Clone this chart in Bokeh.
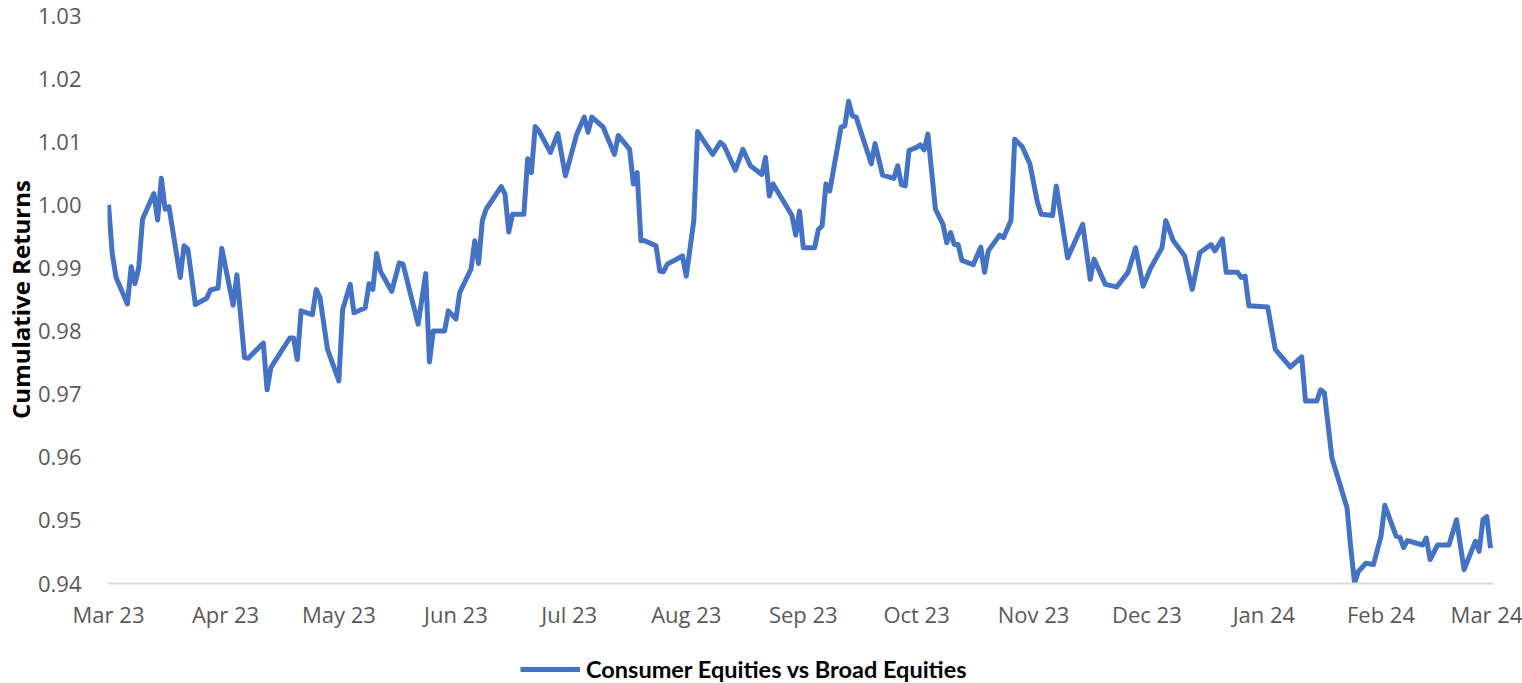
import pandas as pd
from datetime import datetime, timedelta
from bokeh.plotting import figure
from bokeh.layouts import column
from bokeh.models import (Range1d, MonthsTicker, DatetimeTickFormatter, FixedTicker,
                          PrintfTickFormatter, Legend, LegendItem)
from bokeh.embed import file_html
from bokeh.resources import INLINE

series_name = "Consumer Equities vs Broad Equities"
y_axis_title = "Cumulative Returns"
y_ticks = [0.94, 0.95, 0.96, 0.97, 0.98, 0.99, 1.00, 1.01, 1.02, 1.03]

dates = [
    "2023-03-01", "2023-03-02", "2023-03-03", "2023-03-06", "2023-03-07", "2023-03-08",
    "2023-03-09", "2023-03-10", "2023-03-13", "2023-03-14", "2023-03-15", "2023-03-16",
    "2023-03-17", "2023-03-20", "2023-03-21", "2023-03-22", "2023-03-24", "2023-03-27",
    "2023-03-28", "2023-03-30", "2023-03-31", "2023-04-03", "2023-04-04", "2023-04-06",
    "2023-04-07", "2023-04-11", "2023-04-12", "2023-04-13", "2023-04-18", "2023-04-19",
    "2023-04-20", "2023-04-21", "2023-04-24", "2023-04-25", "2023-04-26", "2023-04-28",
    "2023-05-01", "2023-05-02", "2023-05-04", "2023-05-05", "2023-05-08", "2023-05-09",
    "2023-05-10", "2023-05-11", "2023-05-12", "2023-05-15", "2023-05-17", "2023-05-18",
    "2023-05-20", "2023-05-22", "2023-05-24", "2023-05-25", "2023-05-26", "2023-05-29",
    "2023-05-30", "2023-06-01", "2023-06-02", "2023-06-05", "2023-06-06", "2023-06-07",
    "2023-06-08", "2023-06-09", "2023-06-13", "2023-06-14", "2023-06-15", "2023-06-16",
    "2023-06-19", "2023-06-20", "2023-06-21", "2023-06-22", "2023-06-23", "2023-06-26",
    "2023-06-28", "2023-06-30", "2023-07-03", "2023-07-05", "2023-07-06", "2023-07-07",
    "2023-07-10", "2023-07-13", "2023-07-14", "2023-07-17", "2023-07-18", "2023-07-19",
    "2023-07-20", "2023-07-21", "2023-07-24", "2023-07-25", "2023-07-26", "2023-07-27",
    "2023-07-31", "2023-08-01", "2023-08-03", "2023-08-04", "2023-08-08", "2023-08-10",
    "2023-08-11", "2023-08-14", "2023-08-16", "2023-08-18", "2023-08-21", "2023-08-22",
    "2023-08-23", "2023-08-24", "2023-08-29", "2023-08-30", "2023-08-31", "2023-09-01",
    "2023-09-04", "2023-09-05", "2023-09-06", "2023-09-07", "2023-09-08", "2023-09-11",
    "2023-09-12", "2023-09-13", "2023-09-14", "2023-09-15", "2023-09-19", "2023-09-20",
    "2023-09-22", "2023-09-25", "2023-09-26", "2023-09-27", "2023-09-28", "2023-09-29",
    "2023-10-01", "2023-10-02", "2023-10-03", "2023-10-04", "2023-10-06", "2023-10-08",
    "2023-10-09", "2023-10-10", "2023-10-11", "2023-10-12", "2023-10-13", "2023-10-16",
    "2023-10-18", "2023-10-19", "2023-10-20", "2023-10-23", "2023-10-24", "2023-10-26",
    "2023-10-27", "2023-10-29", "2023-10-31", "2023-11-02", "2023-11-03", "2023-11-06",
    "2023-11-07", "2023-11-10", "2023-11-14", "2023-11-16", "2023-11-17", "2023-11-20",
    "2023-11-23", "2023-11-26", "2023-11-28", "2023-11-30", "2023-12-02", "2023-12-05",
    "2023-12-06", "2023-12-08", "2023-12-11", "2023-12-13", "2023-12-15", "2023-12-18",
    "2023-12-19", "2023-12-21", "2023-12-22", "2023-12-25", "2023-12-26", "2023-12-27",
    "2023-12-28", "2024-01-02", "2024-01-04", "2024-01-08", "2024-01-11", "2024-01-12",
    "2024-01-15", "2024-01-16", "2024-01-17", "2024-01-19", "2024-01-23", "2024-01-24",
    "2024-01-25", "2024-01-26", "2024-01-28", "2024-01-30", "2024-02-01", "2024-02-02",
    "2024-02-05", "2024-02-06", "2024-02-07", "2024-02-08", "2024-02-12", "2024-02-13",
    "2024-02-14", "2024-02-16", "2024-02-19", "2024-02-21", "2024-02-23", "2024-02-26",
    "2024-02-27", "2024-02-28", "2024-02-29", "2024-03-01",
]

returns = [
    1.0000, 0.9922, 0.9885, 0.9843, 0.9902, 0.9875,
    0.9900, 0.9977, 1.0018, 0.9976, 1.0042, 0.9993,
    0.9997, 0.9885, 0.9935, 0.9930, 0.9842, 0.9852,
    0.9865, 0.9868, 0.9931, 0.9841, 0.9889, 0.9758,
    0.9757, 0.9781, 0.9707, 0.9742, 0.9789, 0.9789,
    0.9755, 0.9832, 0.9826, 0.9866, 0.9853, 0.9771,
    0.9721, 0.9834, 0.9874, 0.9829, 0.9837, 0.9875,
    0.9866, 0.9923, 0.9895, 0.9863, 0.9908, 0.9906,
    0.9858, 0.9811, 0.9891, 0.9751, 0.9800, 0.9800,
    0.9832, 0.9819, 0.9861, 0.9898, 0.9943, 0.9907,
    0.9975, 0.9993, 1.0029, 1.0017, 0.9957, 0.9985,
    0.9985, 1.0073, 1.0051, 1.0124, 1.0117, 1.0083,
    1.0113, 1.0046, 1.0112, 1.0139, 1.0115, 1.0139,
    1.0123, 1.0080, 1.0110, 1.0088, 1.0033, 1.0051,
    0.9943, 0.9943, 0.9935, 0.9895, 0.9894, 0.9906,
    0.9919, 0.9887, 0.9975, 1.0116, 1.0080, 1.0099,
    1.0094, 1.0055, 1.0088, 1.0062, 1.0048, 1.0075,
    1.0014, 1.0033, 0.9983, 0.9952, 0.9990, 0.9932,
    0.9932, 0.9961, 0.9967, 1.0033, 1.0022, 1.0123,
    1.0125, 1.0164, 1.0141, 1.0139, 1.0065, 1.0097,
    1.0047, 1.0042, 1.0062, 1.0032, 1.0030, 1.0086,
    1.0091, 1.0095, 1.0087, 1.0112, 0.9993, 0.9969,
    0.9940, 0.9956, 0.9937, 0.9937, 0.9912, 0.9905,
    0.9933, 0.9893, 0.9927, 0.9952, 0.9948, 0.9975,
    1.0104, 1.0092, 1.0065, 1.0004, 0.9985, 0.9983,
    1.0030, 0.9916, 0.9969, 0.9882, 0.9914, 0.9874,
    0.9870, 0.9893, 0.9932, 0.9871, 0.9900, 0.9932,
    0.9975, 0.9943, 0.9919, 0.9866, 0.9924, 0.9937,
    0.9927, 0.9946, 0.9893, 0.9893, 0.9885, 0.9887,
    0.9840, 0.9838, 0.9771, 0.9743, 0.9759, 0.9689,
    0.9689, 0.9707, 0.9702, 0.9599, 0.9520, 0.9456,
    0.9401, 0.9419, 0.9432, 0.9430, 0.9475, 0.9524,
    0.9475, 0.9473, 0.9457, 0.9468, 0.9461, 0.9472,
    0.9438, 0.9461, 0.9461, 0.9501, 0.9422, 0.9467,
    0.9451, 0.9501, 0.9506, 0.9456,
]

LINE_COLOR = "#4472C4"
x = pd.to_datetime(dates)

p = figure(
    width=1522, height=631,
    output_backend="svg", toolbar_location=None,
    x_axis_type="datetime",
    x_range=Range1d(datetime(2023, 3, 1) - timedelta(hours=6.5),
                    datetime(2024, 3, 1) + timedelta(hours=19)),
    y_range=Range1d(y_ticks[0], y_ticks[-1]),
    min_border_left=107, min_border_right=29, min_border_top=15, min_border_bottom=48,
)
p.outline_line_color = None
p.grid.visible = False
p.background_fill_color = "white"

r = p.line(x, returns, line_color=LINE_COLOR, line_width=5, line_join="round")

xa = p.xaxis[0]
xa.ticker = MonthsTicker(months=list(range(1, 13)))
xa.formatter = DatetimeTickFormatter(months="%b %y", days="%b %y")
xa.major_tick_line_color = None
xa.minor_tick_line_color = None
xa.major_tick_out = 0
xa.major_tick_in = 0
xa.minor_tick_out = 0
xa.axis_line_color = "#D9D9D9"
xa.axis_line_width = 2
xa.major_label_text_font = "Open Sans"
xa.major_label_text_font_size = "22px"
xa.major_label_text_color = "#595959"
xa.major_label_standoff = 15

ya = p.yaxis[0]
ya.ticker = FixedTicker(ticks=y_ticks)
ya.formatter = PrintfTickFormatter(format="%.2f")
ya.major_tick_line_color = None
ya.minor_tick_line_color = None
ya.major_tick_out = 0
ya.major_tick_in = 0
ya.minor_tick_out = 0
ya.axis_line_color = None
ya.major_label_text_font = "Open Sans"
ya.major_label_text_font_size = "22px"
ya.major_label_text_color = "#595959"
ya.major_label_standoff = 26
ya.axis_label = y_axis_title
ya.axis_label_text_font = "Open Sans"
ya.axis_label_text_font_style = "bold"
ya.axis_label_text_font_size = "24px"
ya.axis_label_text_color = "black"
ya.axis_label_standoff = -2

# legend strip underneath the chart (its frame is aligned with the chart's frame)
lf = figure(
    width=1522, height=52, output_backend="svg", toolbar_location=None,
    x_range=Range1d(0, 1), y_range=Range1d(0, 1),
    x_axis_location=None, y_axis_location=None,
    min_border_left=0, min_border_right=0, min_border_top=0, min_border_bottom=0,
)
lf.outline_line_color = None
lf.grid.visible = False
leg_r = lf.line(x=[0], y=[0], line_color=LINE_COLOR, line_width=5)
legend = Legend(
    items=[LegendItem(label=series_name, renderers=[leg_r])],
    location=(413, 0), orientation="horizontal",
    glyph_width=60, glyph_height=20, label_standoff=6,
    label_text_font="Lato", label_text_font_style="bold",
    label_text_font_size="23.5px", label_text_color="black",
    border_line_color=None, background_fill_alpha=0, padding=0, margin=0,
)
lf.add_layout(legend, "center")

layout = column(p, lf, spacing=0)
open("out.html", "w").write(file_html(layout, INLINE))
